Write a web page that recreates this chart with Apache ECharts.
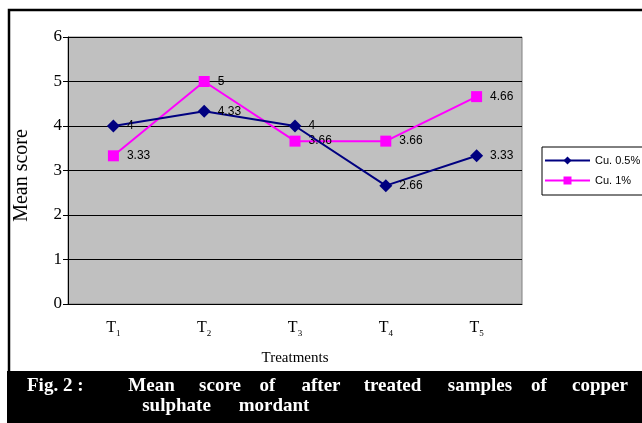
<!DOCTYPE html>
<html>
<head>
<meta charset="utf-8">
<script src="https://cdn.jsdelivr.net/npm/echarts@6/dist/echarts.min.js"></script>
<style>
  html, body { margin: 0; padding: 0; background: #fff; }
  #chart { width: 642px; height: 423px; }
</style>
</head>
<body>
<div id="chart"></div>
<script>
// treatments on the x axis
const treatments = ['T1', 'T2', 'T3', 'T4', 'T5']
const seriesNames = ['Cu. 0.5%', 'Cu. 1%']
// mean scores
const cuHalf = [4, 4.33, 4, 2.66, 3.33]
const cuOne = [3.33, 5, 3.66, 3.66, 4.66]
const yTicks = [0, 1, 2, 3, 4, 5, 6]
const captionLine1 = ['Mean', 'score', 'of', 'after', 'treated', 'samples', 'of', 'copper']
const captionLine2 = ['sulphate', 'mordant']

const serif = 'Liberation Serif, Times New Roman, serif'
const sans = 'Liberation Sans, Arial, sans-serif'

const chart = echarts.init(document.getElementById('chart'))

// the caption is letter-spaced, so each word is centred on its span
const line1Spans = [[123, 180], [193, 247], [257, 278], [290, 352], [355, 430], [443, 517], [528, 550], [562, 638]]
const line2Spans = [[123, 230], [238, 310]]
const captionText = (words, spans, y) => words.map((w, i) => ({
  type: 'text',
  z: 20,
  style: {
    text: w,
    x: (spans[i][0] + spans[i][1]) / 2,
    y: y,
    align: 'center',
    verticalAlign: 'middle',
    fill: '#fff',
    font: 'bold 19px ' + serif
  }
}))

const option = {
  animation: false,
  backgroundColor: '#fff',
  grid: {
    show: true,
    left: 68,
    top: 37,
    width: 454,
    height: 267,
    backgroundColor: '#C0C0C0',
    borderColor: '#808080',
    borderWidth: 1
  },
  legend: {
    data: seriesNames,
    orient: 'vertical',
    left: 542,
    top: 147,
    padding: [8, 4, 9, 2],
    itemGap: 9,
    itemWidth: 45,
    itemHeight: 10,
    borderColor: '#000',
    borderWidth: 1,
    backgroundColor: '#fff',
    textStyle: {
      fontFamily: sans,
      fontSize: 11,
      color: '#000'
    }
  },
  xAxis: {
    type: 'category',
    data: treatments,
    name: 'Treatments',
    nameLocation: 'middle',
    nameGap: 47,
    nameTextStyle: {
      fontFamily: serif,
      fontSize: 15,
      color: '#000'
    },
    axisLine: { lineStyle: { color: '#000', width: 1 } },
    axisTick: { length: 4, lineStyle: { color: '#000' } },
    axisLabel: {
      margin: 14,
      formatter: v => '{t|T}{s|' + v.slice(1) + '}',
      rich: {
        t: { fontFamily: serif, fontSize: 16, color: '#000', lineHeight: 20, verticalAlign: 'middle' },
        s: { fontFamily: serif, fontSize: 9, color: '#000', lineHeight: 20, verticalAlign: 'bottom', padding: [11, 0, 0, 0] }
      }
    }
  },
  yAxis: {
    type: 'value',
    min: 0,
    max: 6,
    interval: 1,
    name: 'Mean score',
    nameLocation: 'middle',
    nameRotate: 90,
    nameGap: 36,
    nameTextStyle: {
      fontFamily: serif,
      fontSize: 20,
      color: '#000',
      padding: [0, 10, 0, 0]
    },
    axisLine: { show: true, lineStyle: { color: '#000', width: 1 } },
    axisTick: { show: true, length: 5, lineStyle: { color: '#000' } },
    axisLabel: {
      margin: 6,
      fontFamily: serif,
      fontSize: 17,
      color: '#000',
      formatter: v => (yTicks.includes(v) ? String(v) : '')
    },
    splitLine: { lineStyle: { color: '#000', width: 1 } }
  },
  series: [
    {
      name: seriesNames[0],
      type: 'line',
      data: cuHalf,
      symbol: 'diamond',
      symbolSize: 13,
      color: '#000080',
      lineStyle: { color: '#000080', width: 2 },
      itemStyle: { color: '#000080' },
      label: {
        show: true,
        position: 'right',
        distance: 7,
        fontFamily: sans,
        fontSize: 12,
        color: '#000'
      },
      z: 3
    },
    {
      name: seriesNames[1],
      type: 'line',
      data: cuOne,
      symbol: 'rect',
      symbolSize: 11,
      color: '#FF00FF',
      lineStyle: { color: '#FF00FF', width: 2 },
      itemStyle: { color: '#FF00FF' },
      label: {
        show: true,
        position: 'right',
        distance: 8,
        fontFamily: sans,
        fontSize: 12,
        color: '#000'
      },
      z: 2
    }
  ],
  graphic: [
    {
      type: 'rect',
      z: 0,
      shape: { x: 9, y: 10, width: 660, height: 440 },
      style: { fill: 'none', stroke: '#000', lineWidth: 2.5 }
    },
    {
      type: 'rect',
      z: 10,
      shape: { x: 7, y: 371, width: 640, height: 60 },
      style: { fill: '#000' }
    },
    {
      type: 'text',
      z: 20,
      style: {
        text: 'Fig. 2 :',
        x: 27,
        y: 386,
        verticalAlign: 'middle',
        fill: '#fff',
        font: 'bold 19px ' + serif
      }
    },
    ...captionText(captionLine1, line1Spans, 386),
    ...captionText(captionLine2, line2Spans, 406)
  ]
}

chart.setOption(option)
</script>
</body>
</html>
